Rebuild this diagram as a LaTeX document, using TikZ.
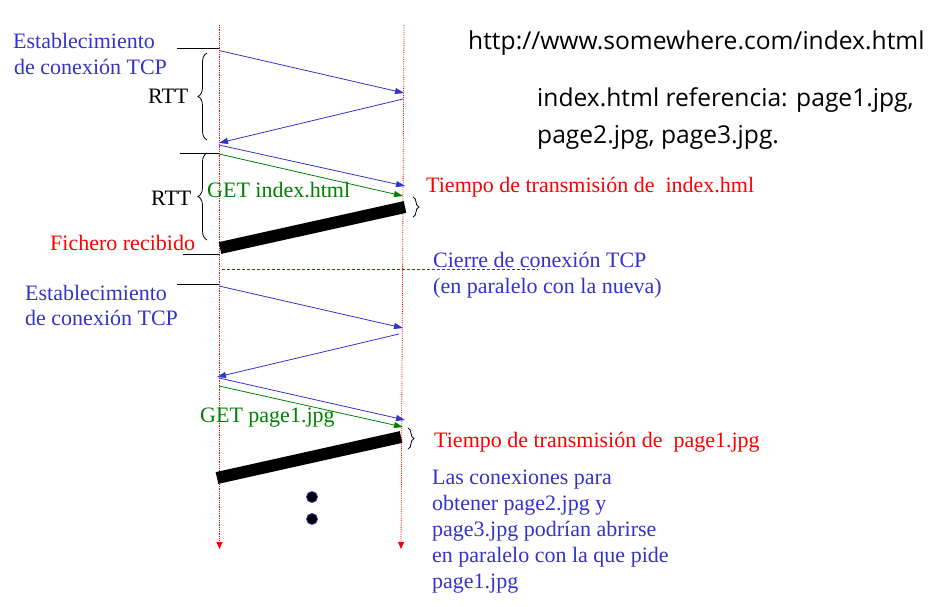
\documentclass[tikz,border=0pt]{standalone}
\usepackage{fontspec}
\setmainfont{Liberation Serif}
\newfontfamily\comicfont{Open Sans}
\usetikzlibrary{arrows.meta,decorations.pathreplacing}
\definecolor{myblue}{RGB}{51,51,204}
\definecolor{mygreen}{RGB}{0,128,0}
\definecolor{myred}{RGB}{255,0,0}
\begin{document}
\begin{tikzpicture}[x=1pt,y=-1pt,
  txt/.style={inner sep=0pt, anchor=base west, font=\fontsize{22}{26}\selectfont},
  ctxt/.style={inner sep=0pt, anchor=base west, font=\comicfont\fontsize{24.6}{36}\selectfont},
  lifeline/.style={myred, densely dotted, line width=0.8pt, -{Triangle[length=7pt,width=6pt]}},
  msg/.style={myblue, line width=0.8pt, -{Triangle[length=9pt,width=6pt]}},
  getmsg/.style={mygreen, line width=0.8pt, -{Triangle[length=9pt,width=6pt]}},
  bar/.style={black, line width=12pt},
  tick/.style={black, line width=0.8pt},
  rttbrace/.style={black, line width=0.8pt, decorate, decoration={brace, amplitude=9pt}},
  smallbrace/.style={black, line width=0.8pt, decorate, decoration={brace, amplitude=6pt}},
  dot/.style={circle, fill=black, draw=myblue, line width=0.8pt, minimum size=11pt, inner sep=0pt}
]
\useasboundingbox (0,0) rectangle (939,607);
% lifelines
\coordinate (Ltop) at (219.5,25);
\coordinate (Lbot) at (219.5,549);
\coordinate (Rtop) at (404,25);
\coordinate (Rbot) at (401,549);
\draw[lifeline] (Ltop) -- (Lbot);
\draw[lifeline] (Rtop) -- (Rbot);

% first connection
\coordinate (t1a) at (177,48);  \coordinate (t1b) at (219,48);
\draw[tick] (t1a) -- (t1b);
\coordinate (m1s) at (219,50.5); \coordinate (m1e) at (404,93);
\coordinate (m2s) at (403,99);   \coordinate (m2e) at (219,143);
\coordinate (m3s) at (219,145);  \coordinate (m3e) at (405,186);
\coordinate (g1s) at (219,154);  \coordinate (g1e) at (403,196);
\draw[msg] (m1s) -- (m1e);
\draw[msg] (m2s) -- (m2e);
\draw[msg] (m3s) -- (m3e);
\draw[getmsg] (g1s) -- (g1e);
\coordinate (t2a) at (180,153); \coordinate (t2b) at (219,153);
\draw[tick] (t2a) -- (t2b);
\coordinate (b1s) at (207,140); \coordinate (b1e) at (207,53);
\draw[rttbrace] (b1s) -- (b1e);
\coordinate (b2s) at (207,240); \coordinate (b2e) at (207,153);
\draw[rttbrace] (b2s) -- (b2e);
\coordinate (bar1s) at (220,248); \coordinate (bar1e) at (405,207);
\draw[bar] (bar1s) -- (bar1e);
\coordinate (sb1s) at (413,197); \coordinate (sb1e) at (413,217);
\draw[smallbrace] (sb1s) -- (sb1e);
\coordinate (t3a) at (183,254.5); \coordinate (t3b) at (219,254.5);
\draw[tick] (t3a) -- (t3b);
\coordinate (d1s) at (222,269); \coordinate (d1e) at (538,269);
\draw[myblue, line width=0.8pt, dash pattern=on 3pt off 2pt] (d1s) -- (d1e);

\node[txt, myblue] (est1a) at (13,49) {Establecimiento};
\node[txt, myblue] (est1b) at (14,75) {de conexión TCP};
\node[txt] (rtt1) at (148,103) {RTT};
\node[txt] (rtt2) at (151,205) {RTT};
\node[txt, mygreen] (get1) at (207,197) {GET index.html};
\node[txt, myred] (fich) at (50,250) {Fichero recibido};
\node[txt, myred] (tt1) at (426,192) {Tiempo de transmisión de\ \ index.hml};
\node[txt, myblue] (cie1) at (433,267) {Cierre de conexión TCP};
\node[txt, myblue] (cie2) at (433,293) {(en paralelo con la nueva)};

% second connection
\coordinate (t4a) at (177,284); \coordinate (t4b) at (219,284);
\draw[tick] (t4a) -- (t4b);
\coordinate (n1s) at (219,286); \coordinate (n1e) at (403,328);
\coordinate (n2s) at (399,334); \coordinate (n2e) at (217,377);
\coordinate (n3s) at (219,378); \coordinate (n3e) at (405,420);
\coordinate (g2s) at (219,386); \coordinate (g2e) at (403,427);
\draw[msg] (n1s) -- (n1e);
\draw[msg] (n2s) -- (n2e);
\draw[msg] (n3s) -- (n3e);
\draw[getmsg] (g2s) -- (g2e);
\coordinate (bar2s) at (217,478); \coordinate (bar2e) at (401,437);
\draw[bar] (bar2s) -- (bar2e);
\coordinate (sb2s) at (408,428); \coordinate (sb2e) at (408,449);
\draw[smallbrace] (sb2s) -- (sb2e);
\node[dot] (dotA) at (312,497) {};
\node[dot] (dotB) at (312,519) {};

\node[txt, myblue] (est2a) at (25,300) {Establecimiento};
\node[txt, myblue] (est2b) at (25,325) {de conexión TCP};
\node[txt, mygreen] (get2) at (200,422) {GET page1.jpg};
\node[txt, myred] (tt2) at (434,447) {Tiempo de transmisión de\ \ page1.jpg};
\node[txt, myblue] (par1) at (432,484) {Las conexiones para};
\node[txt, myblue] (par2) at (432,510) {obtener page2.jpg y};
\node[txt, myblue] (par3) at (432,536) {page3.jpg podrían abrirse};
\node[txt, myblue] (par4) at (432,562) {en paralelo con la que pide};
\node[txt, myblue] (par5) at (432,588) {page1.jpg};

% right-hand notes
\node[ctxt] (url) at (468,50) {http://www.somewhere.com/index.html};
\node[ctxt] (ref1) at (537,107) {index.html referencia: page1.jpg,};
\node[ctxt] (ref2) at (537,143) {page2.jpg, page3.jpg.};
\end{tikzpicture}
\end{document}
